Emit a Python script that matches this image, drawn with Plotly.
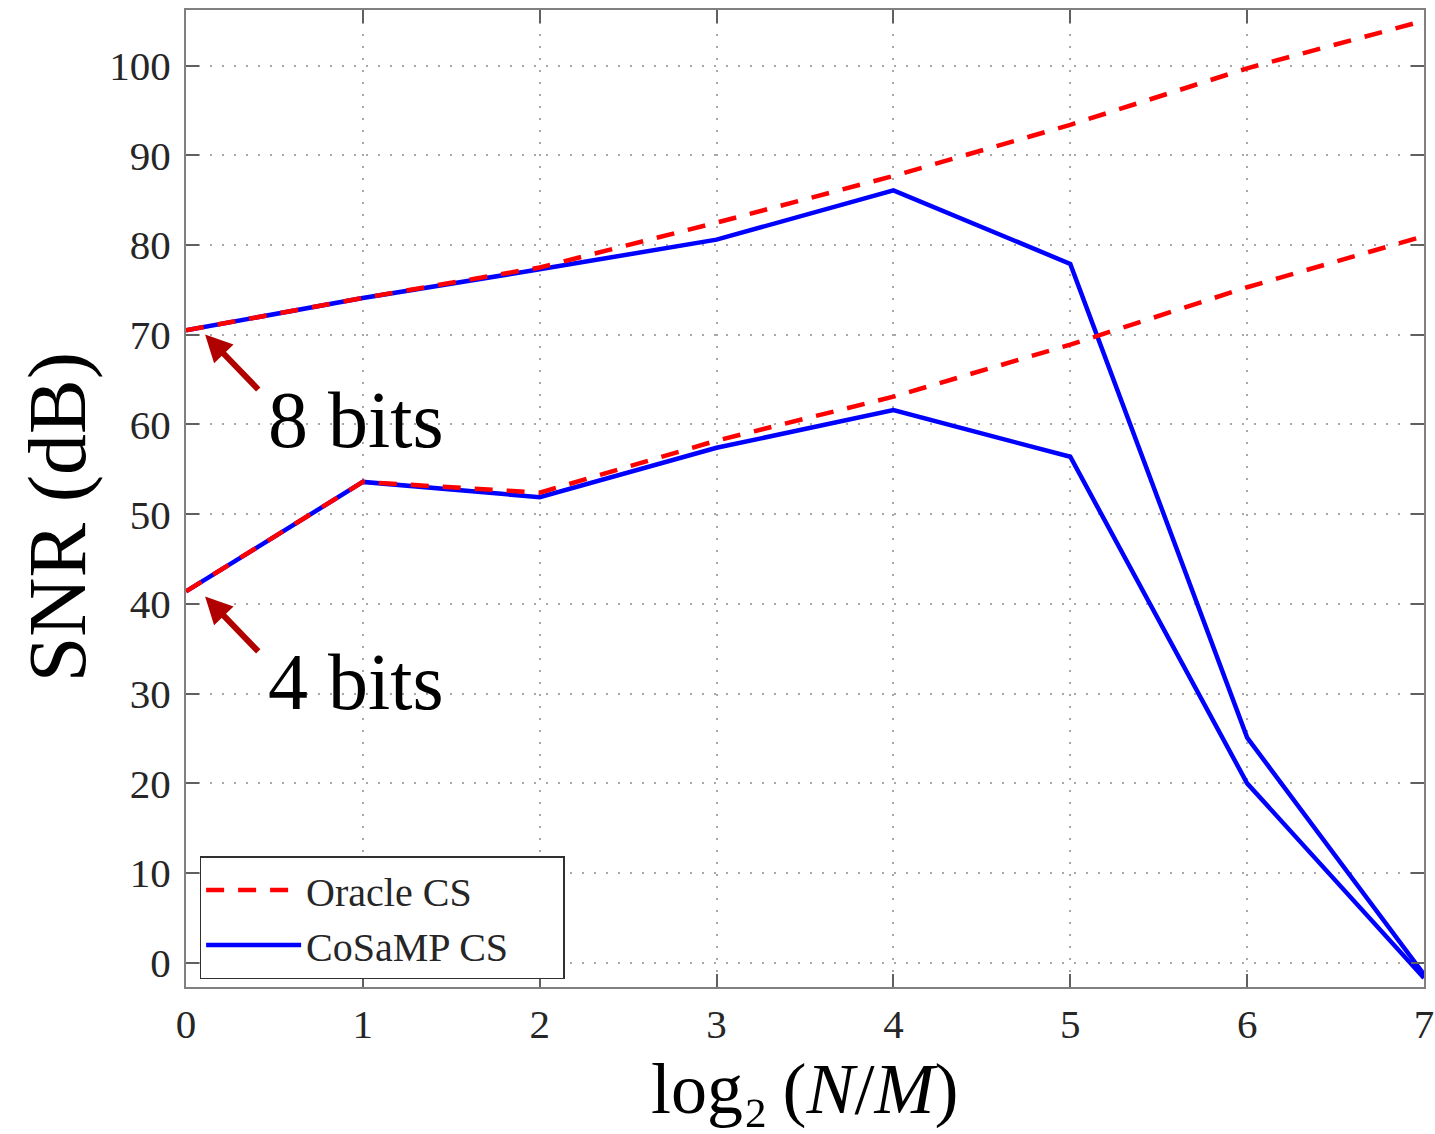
import plotly.graph_objects as go

x_vals = [0, 1, 2, 3, 4, 5, 6, 7]
oracle_8bit = [70.5, 74.1, 77.5, 82.5, 87.7, 93.4, 99.7, 105.0]
cosamp_8bit = [70.5, 74.1, 77.3, 80.6, 86.1, 77.9, 25.1, -1.3]
oracle_4bit = [41.4, 53.6, 52.4, 58.2, 63.1, 68.9, 75.3, 81.0]
cosamp_4bit = [41.4, 53.6, 51.9, 57.4, 61.6, 56.4, 20.0, -1.7]
y_ticks = [0, 10, 20, 30, 40, 50, 60, 70, 80, 90, 100]
x_ticks = [0, 1, 2, 3, 4, 5, 6, 7]

BLUE = "#0000ff"
RED = "#ff0000"
SERIF = "Liberation Serif"
PAD = "\u00a0" * 5

fig = go.Figure()
fig.add_trace(go.Scatter(x=x_vals, y=cosamp_8bit, mode="lines", name="CoSaMP CS" + PAD,
                         line=dict(color=BLUE, width=4.5), legendgroup="c", legendrank=2))
fig.add_trace(go.Scatter(x=x_vals, y=cosamp_4bit, mode="lines", name="CoSaMP CS",
                         line=dict(color=BLUE, width=4.5), legendgroup="c", showlegend=False))
fig.add_trace(go.Scatter(x=x_vals, y=oracle_8bit, mode="lines", name="Oracle CS",
                         line=dict(color=RED, width=4.5, dash="18px,14px"), legendgroup="o", legendrank=1))
fig.add_trace(go.Scatter(x=x_vals, y=oracle_4bit, mode="lines", name="Oracle CS",
                         line=dict(color=RED, width=4.5, dash="18px,14px"), legendgroup="o", showlegend=False))

axis_common = dict(
    showline=True, linecolor="#808080", linewidth=2, mirror="ticks",
    ticks="inside", ticklen=13, tickwidth=2, tickcolor="#606060",
    showgrid=True, gridcolor="#a8a8a8", griddash="2px,10px", gridwidth=2,
    zeroline=False, automargin=False,
    tickfont=dict(family=SERIF, size=41, color="#262626"),
)

fig.update_xaxes(range=[0, 7], tickvals=x_ticks, ticktext=[str(v) for v in x_ticks],
                 **axis_common)
fig.update_yaxes(range=[-2.7, 106.2], tickvals=y_ticks, ticktext=[str(v) for v in y_ticks],
                 ticklabelstandoff=5, **axis_common)

# axis titles as annotations
fig.add_annotation(x=-0.104, y=0.481, xref="paper", yref="paper", text="SNR (dB)",
                   showarrow=False, textangle=-90, xanchor="center", yanchor="middle",
                   font=dict(family=SERIF, size=82, color="black"))
fig.add_annotation(x=0.5, y=-0.104, xref="paper", yref="paper",
                   text="log\u2082\u2009(<i>N</i>/<i>M</i>)",
                   showarrow=False, xanchor="center", yanchor="middle", borderpad=0,
                   font=dict(family=SERIF, size=72, color="black"))

ARROW = "#b00000"
for tip_y, label in [(70.2, "8 bits"), (41.0, "4 bits")]:
    fig.add_annotation(x=0.1, y=tip_y, xref="x", yref="y", text="", showarrow=True,
                       arrowhead=2, arrowsize=0.9, arrowwidth=6, arrowcolor=ARROW,
                       ax=56, ay=58, axref="pixel", ayref="pixel", standoff=2)
    fig.add_annotation(x=0.45, y=tip_y - 9.7, xref="x", yref="y", text=label, showarrow=False,
                       xanchor="left", yanchor="middle",
                       font=dict(family=SERIF, size=80, color="black"))

fig.update_layout(
    width=1435, height=1134,
    margin=dict(l=186, r=11, t=10, b=147),
    plot_bgcolor="white", paper_bgcolor="white",
    showlegend=True,
    legend=dict(x=0.011, y=0.134, xanchor="left", yanchor="top",
                bgcolor="white", bordercolor="#303030", borderwidth=1.5,
                font=dict(family=SERIF, size=40, color="#262626"),
                itemwidth=95, tracegroupgap=0, traceorder="normal"),
)

fig.write_html("out.html")
